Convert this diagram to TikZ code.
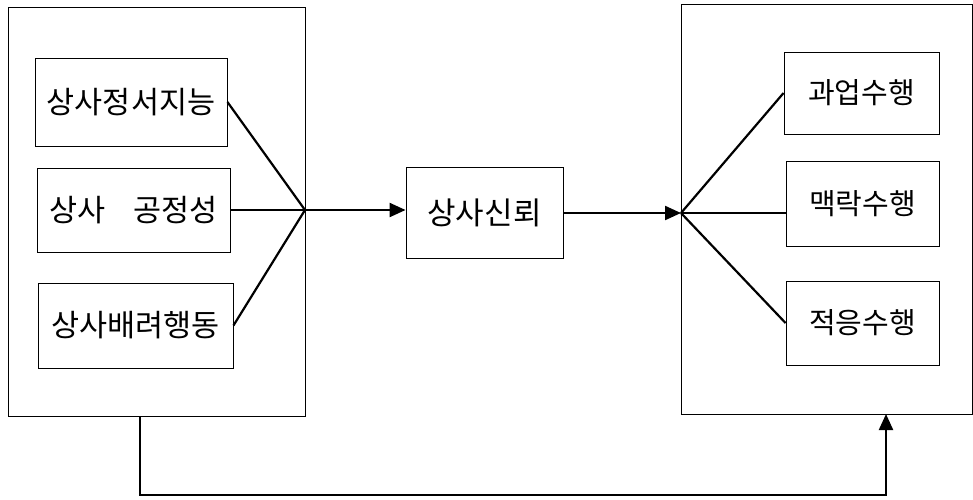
\documentclass[tikz,border=0pt]{standalone}
\usepackage{fontspec}
\newfontfamily\kr{Noto Sans CJK KR}
\usetikzlibrary{arrows.meta}
\tikzset{
  outerbox/.style={draw, line width=0.9pt, inner sep=0pt, anchor=center},
  innerbox/.style={draw, line width=0.9pt, inner sep=0pt, anchor=center, font=\kr\fontsize{30.5}{34}\selectfont},
  midbox/.style={innerbox, font=\kr\fontsize{31}{34}\selectfont},
  rightbox/.style={innerbox, font=\kr\fontsize{29}{34}\selectfont},
  conn/.style={line width=2.2pt},
  arr/.style={line width=2.2pt, -{Triangle[length=16pt,width=14pt]}},
}
\begin{document}
\begin{tikzpicture}[x=1pt,y=-1pt]
\useasboundingbox (0,0) rectangle (973,499);
% left group
\node[outerbox, minimum width=297pt, minimum height=409pt] (lout) at (156.5,211.5) {};
\node[innerbox, minimum width=192pt, minimum height=88pt] (b1) at (131,102) {상사정서지능};
\node[innerbox, minimum width=193pt, minimum height=84pt] (b2) at (133.5,210) {상사\hspace{0.9em}공정성};
\node[innerbox, minimum width=195pt, minimum height=85pt] (b3) at (135.5,325.5) {상사배려행동};
% middle
\node[midbox, minimum width=157pt, minimum height=91pt] (mid) at (484.5,212.5) {상사신뢰};
% right group
\node[outerbox, minimum width=291pt, minimum height=410pt] (rout) at (826.5,209) {};
\node[rightbox, minimum width=155pt, minimum height=82pt] (ra) at (861.5,93) {과업수행};
\node[rightbox, minimum width=153pt, minimum height=85pt] (rb) at (862.5,203.5) {맥락수행};
\node[rightbox, minimum width=153pt, minimum height=84pt] (rc) at (862.5,323) {적응수행};
% junctions
\coordinate (jl) at (305,210);
\coordinate (jr) at (681,213);
\draw[conn] (b1.east) -- (jl);
\draw[conn] (b2.east) -- (jl);
\draw[conn] (b3.east) -- (jl);
\draw[arr] (jl) -- (jl -| mid.west);
\draw[arr] (mid.east |- jr) -- (jr);
\draw[conn] (jr) -- (ra.west);
\draw[conn] (jr) -- (jr -| rb.west);
\draw[conn] (jr) -- (rc.west);
% feedback
\coordinate (fbs) at (140,416);
\coordinate (fbb) at (513,495);
\coordinate (fbe) at (886,414);
\draw[arr] (fbs) |- (fbb) -| (fbe);
\end{tikzpicture}
\end{document}
